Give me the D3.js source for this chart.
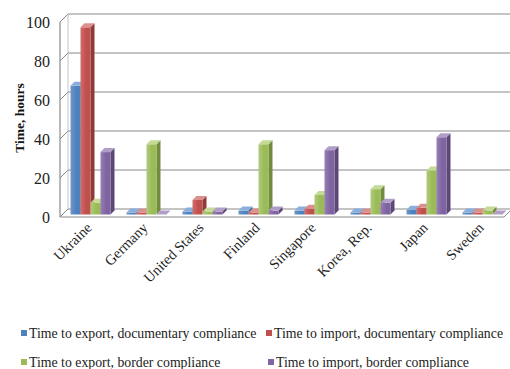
<!DOCTYPE html>
<html>
<head>
<meta charset="utf-8">
<script src="https://cdn.jsdelivr.net/npm/d3@7"></script>
<style>
  html, body { margin: 0; padding: 0; background: #fff; }
  svg { display: block; font-family: "Liberation Serif", "Times New Roman", serif; }
</style>
</head>
<body>
<svg id="chart" width="510" height="369"></svg>
<script>
// Countries on the category axis
const countries = ["Ukraine", "Germany", "United States", "Finland", "Singapore", "Korea, Rep.", "Japan", "Sweden"];

// Series (hours)
const seriesNames = [
  "Time to export, documentary compliance",
  "Time to import, documentary compliance",
  "Time to export, border compliance",
  "Time to import, border compliance"
];
const exportDocumentary = [66, 1, 1.5, 2, 2, 1, 2.4, 1];
const importDocumentary = [96, 1, 7.5, 1, 3, 1, 3.4, 1];
const exportBorder      = [6, 36, 1.5, 36, 10, 13, 22.6, 2];
const importBorder      = [32, 0, 1.5, 2, 33, 6, 39.6, 0];

const yTicks = [0, 20, 40, 60, 80, 100];
const yTitle = "Time, hours";

const seriesValues = [exportDocumentary, importDocumentary, exportBorder, importBorder];
const faceColors = [
  { front: "#4F81BD", light: "#6F97CC", top: "#8AAEDB", side: "#365F91" },
  { front: "#C0504D", light: "#D06D6A", top: "#DC908E", side: "#8E3A38" },
  { front: "#9BBB59", light: "#B0CB78", top: "#C4DA96", side: "#728C3F" },
  { front: "#8064A2", light: "#977FB6", top: "#B09DC8", side: "#5C4877" }
];

const svg = d3.select("#chart");

// 3D geometry: the floor's front edge and the back wall are offset by (depth, -depth)
const depth = 8;
const barFront = 2.5;   // bars sit a little behind the front edge
const barDepth = 4;

const x = d3.scaleBand().domain(countries).range([60, 508]).paddingInner(0).paddingOuter(0);
const xs = d3.scaleBand().domain(d3.range(seriesNames.length))
  .range([0, x.bandwidth()]).paddingOuter(0.8).paddingInner(0);
const y = d3.scaleLinear().domain([0, 100]).range([217, 22]);

// gradients for bar fronts
const defs = svg.append("defs");
faceColors.forEach((c, i) => {
  const g = defs.append("linearGradient").attr("id", "front" + i)
    .attr("x1", "0").attr("x2", "1").attr("y1", "0").attr("y2", "0");
  g.append("stop").attr("offset", "0%").attr("stop-color", c.light);
  g.append("stop").attr("offset", "55%").attr("stop-color", c.front);
  g.append("stop").attr("offset", "100%").attr("stop-color", c.front);
});

const gridColor = "#8a8a8a";
const grid = svg.append("g");
const x0 = x.range()[0], x1 = 510;

// back wall gridlines and left side wall diagonals
yTicks.forEach(t => {
  grid.append("line")
    .attr("x1", x0 + depth).attr("x2", x1)
    .attr("y1", y(t) - depth).attr("y2", y(t) - depth)
    .attr("stroke", gridColor).attr("stroke-width", 1.2);
  grid.append("line")
    .attr("x1", x0).attr("x2", x0 + depth)
    .attr("y1", y(t)).attr("y2", y(t) - depth)
    .attr("stroke", gridColor).attr("stroke-width", 1);
});
// side wall verticals
grid.append("line").attr("x1", x0).attr("x2", x0).attr("y1", y(100)).attr("y2", y(0))
  .attr("stroke", gridColor).attr("stroke-width", 1.2);
grid.append("line").attr("x1", x0 + depth).attr("x2", x0 + depth).attr("y1", y(100) - depth).attr("y2", y(0) - depth)
  .attr("stroke", "#b5b5b5").attr("stroke-width", 0.8);
// floor front edge
grid.append("line").attr("x1", x0).attr("x2", x.range()[1] - 4).attr("y1", y(0)).attr("y2", y(0))
  .attr("stroke", gridColor).attr("stroke-width", 1.2);
grid.append("line").attr("x1", x.range()[1] - 4).attr("x2", x.range()[1] + depth - 4).attr("y1", y(0)).attr("y2", y(0) - depth)
  .attr("stroke", gridColor).attr("stroke-width", 1);

// y tick labels
svg.append("g").selectAll("text").data(yTicks).join("text")
  .attr("x", 50).attr("y", d => y(d)).attr("dy", "0.35em")
  .attr("text-anchor", "end").attr("font-size", 16).attr("fill", "#222")
  .text(d => d);

// y title
svg.append("text")
  .attr("transform", "translate(19,118) rotate(-90)")
  .attr("text-anchor", "middle").attr("dy", "0.35em")
  .attr("font-size", 13.5).attr("font-weight", "bold").attr("fill", "#111")
  .text(yTitle);

// bars
const bars = svg.append("g");
countries.forEach((c, ci) => {
  seriesValues.forEach((vals, si) => {
    const v = vals[ci];
    const bx = x(c) + xs(si) + barFront;
    const bw = xs.bandwidth();
    const by = y(v) - barFront;
    const base = y(0) - barFront;
    const g = bars.append("g");
    const col = faceColors[si];
    // side face
    g.append("path")
      .attr("d", `M${bx + bw},${by} L${bx + bw + barDepth},${by - barDepth} L${bx + bw + barDepth},${base - barDepth} L${bx + bw},${base} Z`)
      .attr("fill", col.side);
    // front face
    if (base - by > 0) {
      g.append("rect").attr("x", bx).attr("y", by).attr("width", bw).attr("height", base - by)
        .attr("fill", `url(#front${si})`);
    }
    // top face
    g.append("path")
      .attr("d", `M${bx},${by} L${bx + barDepth},${by - barDepth} L${bx + bw + barDepth},${by - barDepth} L${bx + bw},${by} Z`)
      .attr("fill", col.top);
  });
});

// category labels
svg.append("g").selectAll("text").data(countries).join("text")
  .attr("transform", d => `translate(${x(d) + x.bandwidth() / 2 + 1},${225}) rotate(-45)`)
  .attr("text-anchor", "end").attr("dy", "0.35em")
  .attr("font-size", 14.5).attr("fill", "#222")
  .text(d => d);

// legend
const legendPos = [
  { x: 21, y: 333 }, { x: 266, y: 333 },
  { x: 21, y: 362 }, { x: 268, y: 362 }
];
const legend = svg.append("g").selectAll("g").data(seriesNames).join("g")
  .attr("transform", (d, i) => `translate(${legendPos[i].x},${legendPos[i].y})`);
legend.append("rect").attr("x", 0).attr("y", -3).attr("width", 6).attr("height", 6)
  .attr("fill", (d, i) => faceColors[i].front);
legend.append("text").attr("x", 8).attr("y", 0).attr("dy", "0.35em")
  .attr("font-size", 13.8).attr("fill", "#222")
  .text(d => d);
</script>
</body>
</html>
